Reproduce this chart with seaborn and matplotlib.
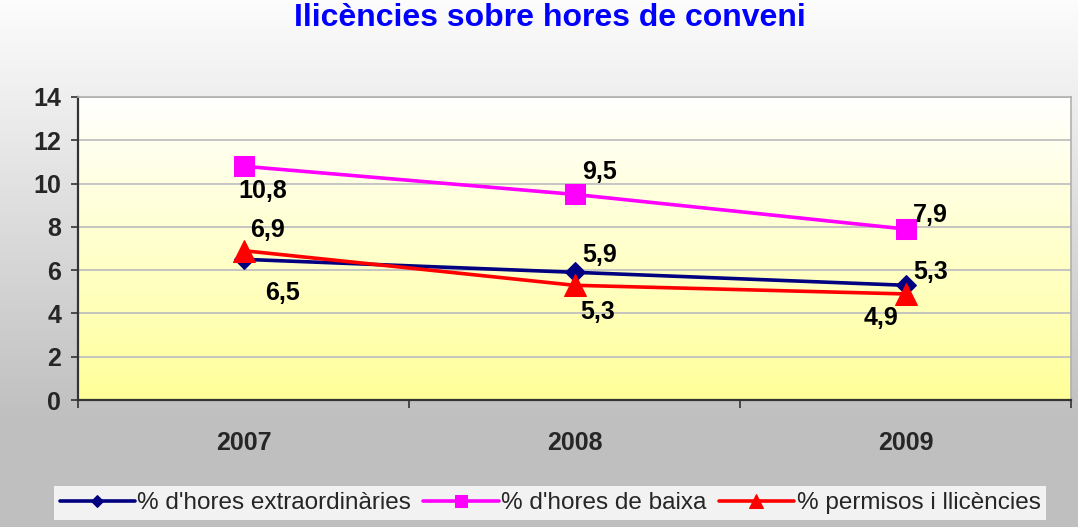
import numpy as np
import pandas as pd
import matplotlib
matplotlib.use('Agg')
import matplotlib.pyplot as plt
import seaborn as sns

years = [2007, 2008, 2009]
extra = [6.5, 5.9, 5.3]
baixa = [10.8, 9.5, 7.9]
permisos = [6.9, 5.3, 4.9]
series_names = ["% d'hores extraordinàries", "% d'hores de baixa", "% permisos i llicències"]
title = "Ilicències sobre hores de conveni"

sns.set_style('white')
plt.rcParams['font.family'] = ['Liberation Sans', 'DejaVu Sans']

df = pd.DataFrame({
    'year': years * 3,
    'value': extra + baixa + permisos,
    'serie': [series_names[0]] * 3 + [series_names[1]] * 3 + [series_names[2]] * 3,
})

fig = plt.figure(figsize=(10.78, 5.27), dpi=100)

# figure background: light grey gradient
bg = fig.add_axes([0, 0, 1, 1], zorder=-10)
grad = np.linspace(0, 1, 256).reshape(-1, 1)
grad = np.clip(grad / 0.8, 0, 1)
top_c = np.array([0.99, 0.99, 0.99])
bot_c = np.array([0.75, 0.75, 0.75])
img = top_c + (bot_c - top_c) * grad[:, :, None]
bg.imshow(img, aspect='auto', extent=[0, 1, 0, 1], origin='upper')
bg.axis('off')

ax = fig.add_axes([78 / 1078, 127 / 527, 993 / 1078, 303 / 527])
ax.set_facecolor('none')

# plot area gradient white -> pale yellow
g2 = np.linspace(0, 1, 256).reshape(-1, 1)
c_top = np.array([1.0, 1.0, 1.0])
c_bot = np.array([1.0, 1.0, 0.6])
img2 = c_top + (c_bot - c_top) * g2[:, :, None]
ax.imshow(img2, aspect='auto', extent=[2006.5, 2009.5, 0, 14], origin='upper', zorder=0)

styles = [
    ('#000080', 'D', 10),
    ('#ff00ff', 's', 14),
    ('#ff0000', '^', 16),
]
for name, (col, mk, ms) in zip(series_names, styles):
    sub = df[df['serie'] == name]
    sns.lineplot(data=sub, x='year', y='value', ax=ax, color=col, marker=mk,
                 markersize=ms, markeredgecolor=col, linewidth=2.6, label=name,
                 zorder=3)

# data labels (offsets in pixels)
offsets = {
    0: [(39, -34), (25, 17), (25, 13)],
    1: [(19, -25), (25, 22), (25, 14)],
    2: [(24, 21), (23, -27), (-25, -24)],
}
for i, vals in enumerate([extra, baixa, permisos]):
    for j, (yr, v) in enumerate(zip(years, vals)):
        ax.annotate(f'{v:.1f}'.replace('.', ','), (yr, v), xytext=offsets[i][j],
                    textcoords='offset pixels', ha='center', va='center',
                    fontsize=18, fontweight='bold', color='black', zorder=5)

ax.set_xlim(2006.5, 2009.5)
ax.set_ylim(0, 14)
ax.set_yticks(range(0, 15, 2))
ax.set_xticks(years)
ax.set_xticklabels([str(y) for y in years])
ax.set_xticks([2006.5, 2007.5, 2008.5, 2009.5], minor=True)
ax.grid(axis='y', color='#c0c0c0', linewidth=1.3, zorder=1)
ax.set_axisbelow(True)
ax.set_xlabel('')
ax.set_ylabel('')

for lab in ax.get_xticklabels() + ax.get_yticklabels():
    lab.set_fontweight('bold')
ax.tick_params(axis='y', labelsize=18, length=5, width=1.2, pad=7, left=True, color='#333333')
ax.tick_params(axis='x', which='major', labelsize=18, length=0, pad=22)
ax.tick_params(axis='x', which='minor', length=6, width=1.2, bottom=True, color='#333333')

for s in ['left', 'bottom']:
    ax.spines[s].set_color('#333333')
    ax.spines[s].set_linewidth(1.6)
for s in ['top', 'right']:
    ax.spines[s].set_color('#b0b0b0')
    ax.spines[s].set_linewidth(1.2)

ax.get_legend().remove()
handles, labels = ax.get_legend_handles_labels()
leg = fig.legend(handles, labels, loc='center', bbox_to_anchor=(550 / 1078, 1 - 503 / 527),
                 ncol=3, fontsize=17.5, frameon=True, fancybox=False, handlelength=3.1,
                 handletextpad=0.1, columnspacing=0.5, borderpad=0.25, markerscale=0.65)
leg.get_frame().set_facecolor('white')
leg.get_frame().set_edgecolor('none')

fig.text(550 / 1078, 1 - 26 / 527, title, ha='center', va='baseline', color='#0000ff',
         fontsize=23, fontweight='bold')

fig.savefig('out.png', dpi=100)
